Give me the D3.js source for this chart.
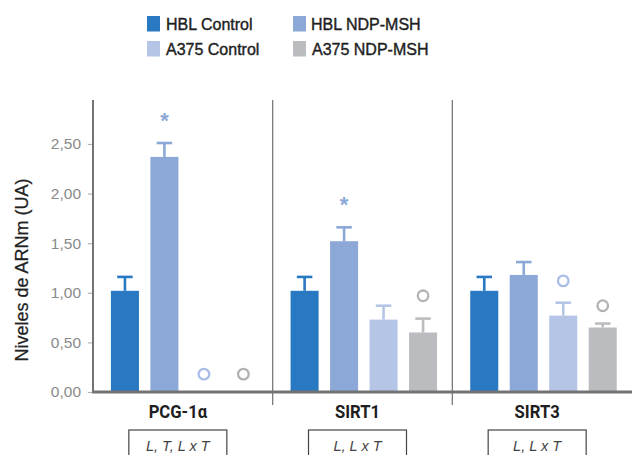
<!DOCTYPE html>
<html>
<head>
<meta charset="utf-8">
<script src="https://cdn.jsdelivr.net/npm/d3@7"></script>
<style>
  html, body { margin: 0; padding: 0; background: #fff; }
  svg { display: block; }
</style>
</head>
<body>
<svg id="chart" width="632" height="455"></svg>
<script>
// ---------- data ----------
const categories = ["PCG-1α", "SIRT1", "SIRT3"];
const seriesNames = ["HBL Control", "HBL NDP-MSH", "A375 Control", "A375 NDP-MSH"];
const seriesColors = ["#2878c2", "#8ba8d6", "#b4c5e6", "#bbbcbf"];
const markerColors = ["#2878c2", "#8ba8d6", "#a9bde6", "#b2b3b6"];
// values per series (null = not shown), same order as categories
const hblControl   = [1.02, 1.02, 1.02];
const hblNdp       = [2.37, 1.52, 1.18];
const a375Control  = [null, 0.73, 0.77];
const a375Ndp      = [null, 0.60, 0.65];
// error-bar tops
const hblControlErr  = [1.16, 1.16, 1.16];
const hblNdpErr      = [2.51, 1.66, 1.31];
const a375ControlErr = [null, 0.87, 0.90];
const a375NdpErr     = [null, 0.74, 0.69];
// significance markers
const stars   = [{cat: "PCG-1α", series: "HBL NDP-MSH", value: 2.76},
                 {cat: "SIRT1",  series: "HBL NDP-MSH", value: 1.92}];
const circles = [{cat: "PCG-1α", series: "A375 Control", value: 0.18},
                 {cat: "PCG-1α", series: "A375 NDP-MSH", value: 0.18},
                 {cat: "SIRT1",  series: "A375 NDP-MSH", value: 0.97},
                 {cat: "SIRT3",  series: "A375 Control", value: 1.12},
                 {cat: "SIRT3",  series: "A375 NDP-MSH", value: 0.87}];
const yTicks = [0, 0.5, 1.0, 1.5, 2.0, 2.5];
const yTickLabels = ["0,00", "0,50", "1,00", "1,50", "2,00", "2,50"];
const yTitle = "Niveles de ARNm (UA)";
const statLabels = ["L, T, L x T", "L, L x T", "L, L x T"];

const values = [hblControl, hblNdp, a375Control, a375Ndp];
const errs = [hblControlErr, hblNdpErr, a375ControlErr, a375NdpErr];
const rows = [];
seriesNames.forEach((s, si) => categories.forEach((c, ci) => {
  if (values[si][ci] != null) rows.push({cat: c, series: s, si, value: values[si][ci], err: errs[si][ci]});
}));

// ---------- layout ----------
const svg = d3.select("#chart");
const left = 93, right = 632, yBase = 392, yTopPx = 100;

const x = d3.scaleBand().domain(categories).range([left, right]).padding(0);
const xi = d3.scaleBand().domain(seriesNames).range([0, x.bandwidth()])
  .paddingInner(0.29).paddingOuter(0.42).align(0.54);
const y = d3.scaleLinear().domain([0, 2.5]).range([yBase, 144]);

const color = d3.scaleOrdinal().domain(seriesNames).range(seriesColors);
const mColor = d3.scaleOrdinal().domain(seriesNames).range(markerColors);

// y axis ticks and labels
const yAxis = d3.axisLeft(y).tickValues(yTicks).tickSize(5).tickPadding(7)
  .tickFormat((d, i) => yTickLabels[i]);
const gy = svg.append("g").attr("transform", `translate(${left},0)`).call(yAxis);
gy.select(".domain").remove();
gy.selectAll(".tick line").attr("stroke", "#b5b5b5").attr("stroke-width", 1.2);
gy.selectAll(".tick text").attr("fill", "#8a8a8a")
  .style("font-family", "'Liberation Sans', Arial, sans-serif").style("font-size", "15.5px");

// y title
svg.append("text")
  .attr("transform", `translate(28, ${(yBase + yTopPx) / 2 + 24}) rotate(-90)`)
  .attr("text-anchor", "middle")
  .attr("fill", "#222")
  .attr("stroke", "#222").attr("stroke-width", 0.25)
  .style("font-family", "'Liberation Sans', Arial, sans-serif")
  .style("font-size", "18px")
  .text(yTitle);

// separators between panels
svg.append("g").selectAll("line").data(categories.slice(1)).join("line")
  .attr("x1", d => x(d)).attr("x2", d => x(d))
  .attr("y1", yTopPx).attr("y2", 405)
  .attr("stroke", "#7a7a7a").attr("stroke-width", 1.3);

// bars
const gBars = svg.append("g");
gBars.selectAll("rect").data(rows).join("rect")
  .attr("x", d => x(d.cat) + xi(d.series))
  .attr("width", xi.bandwidth())
  .attr("y", d => y(d.value))
  .attr("height", d => y(0) - y(d.value))
  .attr("fill", d => color(d.series));

// error bars
const capW = 15.5;
const gErr = svg.append("g");
rows.forEach(d => {
  const cx = x(d.cat) + xi(d.series) + xi.bandwidth() / 2;
  gErr.append("line").attr("x1", cx).attr("x2", cx)
    .attr("y1", y(d.value)).attr("y2", y(d.err))
    .attr("stroke", color(d.series)).attr("stroke-width", 2.6);
  gErr.append("line").attr("x1", cx - capW / 2).attr("x2", cx + capW / 2)
    .attr("y1", y(d.err)).attr("y2", y(d.err))
    .attr("stroke", color(d.series)).attr("stroke-width", 2.6);
});

// circles
svg.append("g").selectAll("circle").data(circles).join("circle")
  .attr("cx", d => x(d.cat) + xi(d.series) + xi.bandwidth() / 2)
  .attr("cy", d => y(d.value))
  .attr("r", 5.3)
  .attr("fill", "none")
  .attr("stroke", d => mColor(d.series))
  .attr("stroke-width", 2.3);

// stars
svg.append("g").selectAll("text").data(stars).join("text")
  .attr("x", d => x(d.cat) + xi(d.series) + xi.bandwidth() / 2)
  .attr("y", d => y(d.value) + 10)
  .attr("text-anchor", "middle")
  .attr("fill", d => mColor(d.series))
  .style("font-family", "'Liberation Sans', Arial, sans-serif")
  .style("font-weight", "700")
  .style("font-size", "22px")
  .text("*");

// axis lines
svg.append("line").attr("x1", left).attr("x2", left).attr("y1", yTopPx).attr("y2", yBase)
  .attr("stroke", "#737373").attr("stroke-width", 2);
svg.append("line").attr("x1", left - 1).attr("x2", right).attr("y1", yBase).attr("y2", yBase)
  .attr("stroke", "#737373").attr("stroke-width", 2.8);

// category labels
const labelOffset = -5;
svg.append("g").selectAll("text").data(categories).join("text")
  .attr("transform", d => `translate(${x(d) + x.bandwidth() / 2 + labelOffset},417.5) scale(0.9,1)`)
  .attr("text-anchor", "middle")
  .attr("fill", "#1e1e1e")
  .style("font-family", "Roboto, 'Liberation Sans', sans-serif")
  .style("font-weight", "700")
  .style("font-size", "18.5px")
  .text(d => d);

// stat boxes
const boxW = 98;
const gBox = svg.append("g");
categories.forEach((c, i) => {
  const cx = x(c) + x.bandwidth() / 2 + labelOffset;
  gBox.append("rect").attr("x", cx - boxW / 2).attr("y", 430).attr("width", boxW).attr("height", 32)
    .attr("fill", "none").attr("stroke", "#444").attr("stroke-width", 1.2);
  gBox.append("text").attr("x", cx).attr("y", 450.5).attr("text-anchor", "middle")
    .attr("fill", "#444")
    .style("font-family", "'Liberation Sans', Arial, sans-serif")
    .style("font-style", "italic")
    .style("font-size", "14.5px")
    .text(statLabels[i]);
});

// legend
const legendPos = [[147, 16], [293, 16], [147, 41], [293, 41]];
const legendTextX = [166, 311, 166, 312];
const gLeg = svg.append("g");
seriesNames.forEach((s, i) => {
  const [lx, ly] = legendPos[i];
  gLeg.append("rect").attr("x", lx).attr("y", ly).attr("width", 13).attr("height", 15.5)
    .attr("fill", color(s));
  gLeg.append("text").attr("x", legendTextX[i]).attr("y", ly + 14)
    .attr("fill", "#1e1e1e")
    .attr("stroke", "#1e1e1e").attr("stroke-width", 0.4)
    .style("font-family", "'Liberation Sans', Arial, sans-serif")
    .style("font-size", "16px")
    .text(s);
});
</script>
</body>
</html>
